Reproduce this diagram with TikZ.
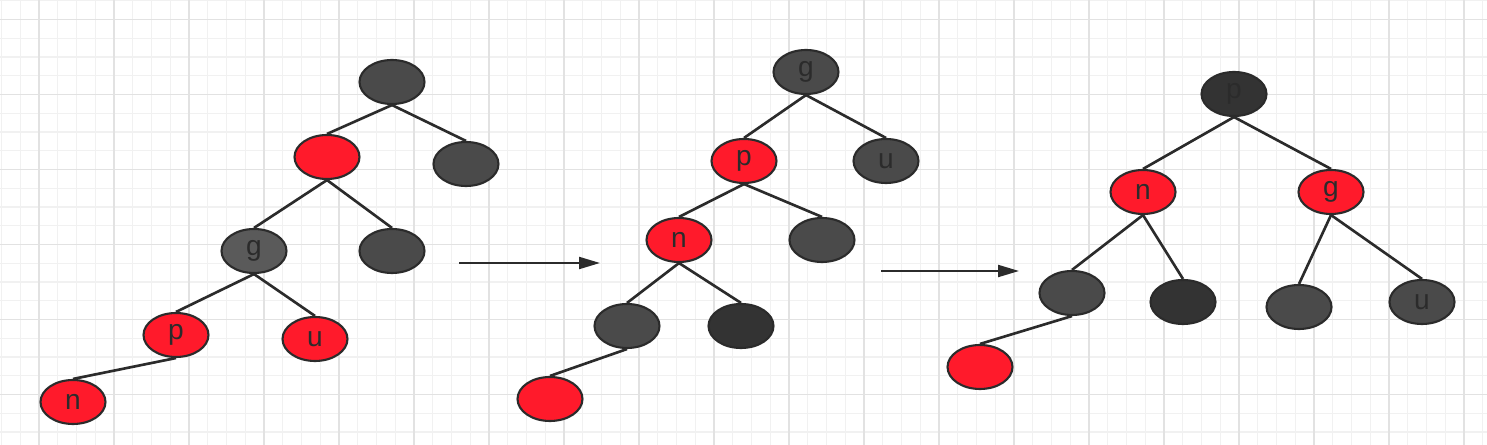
\documentclass[tikz,border=0pt]{standalone}
\usepackage{fontspec}
\setmainfont{Liberation Sans}
\usetikzlibrary{shapes.geometric,arrows.meta}
\definecolor{rbred}{HTML}{FF1A2B}
\definecolor{rbdark}{HTML}{4A4A4A}
\definecolor{rbdeep}{HTML}{333333}
\definecolor{rbgrey}{HTML}{5A5A5A}
\definecolor{rbline}{HTML}{2B2B2B}
\definecolor{gridminor}{HTML}{F1F1F1}
\definecolor{gridmajor}{HTML}{E2E2E2}
\begin{document}
\begin{tikzpicture}[x=0.02cm, y=-0.02cm, >={Triangle[length=0.42cm,width=0.24cm]},
  rbnode/.style={ellipse, draw=rbline, line width=1.2pt, minimum width=1.3cm, minimum height=0.88cm, inner sep=0pt, text=rbline, font=\fontsize{16}{18}\selectfont},
  rednode/.style={rbnode, fill=rbred},
  blknode/.style={rbnode, fill=rbdark},
  deepnode/.style={rbnode, fill=rbdeep},
  greynode/.style={rbnode, fill=rbgrey},
  link/.style={draw=rbline, line width=1.5pt},
  step arrow/.style={draw=rbline, line width=1.2pt, ->}]
\useasboundingbox (0,0) rectangle (1487,445);
\fill[white] (0,0) rectangle (1487,445);
% background grid
\foreach \i in {0,...,79} {
  \pgfmathsetmacro{\gx}{1.5+18.75*\i}
  \draw[gridminor, line width=0.6pt] (\gx,0) -- (\gx,445);
}
\foreach \j in {0,...,23} {
  \pgfmathsetmacro{\gy}{0.75+18.75*\j}
  \draw[gridminor, line width=0.6pt] (0,\gy) -- (1487,\gy);
}
\foreach \i in {0,...,19} {
  \pgfmathsetmacro{\gx}{39+75*\i}
  \draw[gridmajor, line width=0.8pt] (\gx,0) -- (\gx,445);
}
\foreach \j in {0,...,5} {
  \pgfmathsetmacro{\gy}{19.5+75*\j}
  \draw[gridmajor, line width=0.8pt] (0,\gy) -- (1487,\gy);
}

% first tree
\node[blknode] (ar) at (392,82) {};
\node[rednode] (aq) at (327,157) {};
\node[blknode] (aw) at (466,164) {};
\node[greynode] (ag) at (254,251) {g};
\node[blknode] (as) at (392,251) {};
\node[rednode] (ap) at (176,335) {p};
\node[rednode] (au) at (315,339) {u};
\node[rednode] (an) at (73,402) {n};
\draw[link] (ar.south) -- (aq.north);
\draw[link] (ar.south) -- (aw.north);
\draw[link] (aq.south) -- (ag.north);
\draw[link] (aq.south) -- (as.north);
\draw[link] (ag.south) -- (ap.north);
\draw[link] (ag.south) -- (au.north);
\draw[link] (ap.south) -- (an.north);

% second tree
\node[blknode] (bg) at (806,72) {g};
\node[rednode] (bp) at (744,161) {p};
\node[blknode] (bu) at (886,161) {u};
\node[rednode] (bn) at (679,240) {n};
\node[blknode] (bs) at (822,240) {};
\node[blknode] (bl) at (627,326) {};
\node[deepnode] (bd) at (741,326) {};
\node[rednode] (bx) at (550,399) {};
\draw[link] (bg.south) -- (bp.north);
\draw[link] (bg.south) -- (bu.north);
\draw[link] (bp.south) -- (bn.north);
\draw[link] (bp.south) -- (bs.north);
\draw[link] (bn.south) -- (bl.north);
\draw[link] (bn.south) -- (bd.north);
\draw[link] (bl.south) -- (bx.north);

% third tree
\node[deepnode] (cp) at (1234,94) {p};
\node[rednode] (cn) at (1143,192) {n};
\node[rednode] (cg) at (1331,192) {g};
\node[blknode] (cl) at (1072,293) {};
\node[deepnode] (cd) at (1183,302) {};
\node[blknode] (cs) at (1299,307) {};
\node[blknode] (cu) at (1422,302) {u};
\node[rednode] (cx) at (980,367) {};
\draw[link] (cp.south) -- (cn.north);
\draw[link] (cp.south) -- (cg.north);
\draw[link] (cn.south) -- (cl.north);
\draw[link] (cn.south) -- (cd.north);
\draw[link] (cg.south) -- (cs.north);
\draw[link] (cg.south) -- (cu.north);
\draw[link] (cl.south) -- (cx.north);

% arrows between the steps
\coordinate (s1) at (459,263);
\coordinate (e1) at (600,263);
\coordinate (s2) at (881,271);
\coordinate (e2) at (1019,271);
\draw[step arrow] (s1) -- (e1);
\draw[step arrow] (s2) -- (e2);
\end{tikzpicture}
\end{document}
